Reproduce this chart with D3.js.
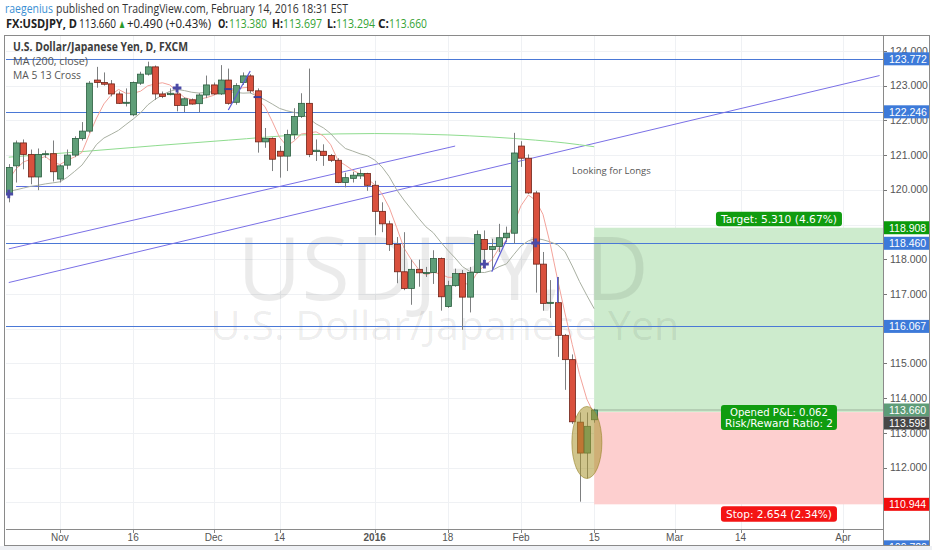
<!DOCTYPE html>
<html><head><meta charset="utf-8">
<script src="https://cdn.jsdelivr.net/npm/d3@7"></script>
<style>body{margin:0;background:#fff;} svg{display:block;font-family:Lato,"Open Sans",Arial,sans-serif;}</style>
</head><body><svg id="c" width="932" height="550"></svg>
<script>
// ---------- DATA ----------
const dates = ["2015-10-22","2015-10-23","2015-10-26","2015-10-27","2015-10-28","2015-10-29","2015-10-30",
"2015-11-02","2015-11-03","2015-11-04","2015-11-05","2015-11-06","2015-11-09","2015-11-10","2015-11-11","2015-11-12","2015-11-13",
"2015-11-16","2015-11-17","2015-11-18","2015-11-19","2015-11-20","2015-11-23","2015-11-24","2015-11-25","2015-11-26","2015-11-27","2015-11-30",
"2015-12-01","2015-12-02","2015-12-03","2015-12-04","2015-12-07","2015-12-08","2015-12-09","2015-12-10","2015-12-11",
"2015-12-14","2015-12-15","2015-12-16","2015-12-17","2015-12-18","2015-12-21","2015-12-22","2015-12-23","2015-12-24",
"2015-12-28","2015-12-29","2015-12-30","2015-12-31","2016-01-04","2016-01-05","2016-01-06","2016-01-07","2016-01-08",
"2016-01-11","2016-01-12","2016-01-13","2016-01-14","2016-01-15","2016-01-18","2016-01-19","2016-01-20","2016-01-21","2016-01-22",
"2016-01-25","2016-01-26","2016-01-27","2016-01-28","2016-01-29","2016-02-01","2016-02-02","2016-02-03","2016-02-04","2016-02-05",
"2016-02-08","2016-02-09","2016-02-10","2016-02-11","2016-02-12","2016-02-15"];
const opens = [119.88,120.69,121.35,121.02,120.37,121.02,121.04,
120.31,120.71,121.00,121.48,121.69,123.16,123.09,123.05,122.76,122.49,
122.16,123.07,123.33,123.54,122.76,122.74,122.76,122.43,122.59,122.48,122.73,
123.02,122.76,123.16,122.52,123.09,123.28,122.85,121.38,121.48,
121.11,120.97,121.59,122.11,122.49,121.10,121.11,120.99,120.85,
120.21,120.33,120.40,120.47,120.13,119.38,119.02,118.43,117.64,
117.16,117.71,117.60,117.62,118.02,116.64,117.24,117.59,116.91,117.62,
118.57,118.28,118.37,118.62,118.75,121.26,120.91,119.91,117.86,116.73,
116.75,115.81,115.11,113.31,112.42,113.380];
const highs = [120.74,121.42,121.45,121.16,121.19,121.13,121.42,
120.73,121.16,121.54,121.95,123.13,123.54,123.38,123.16,122.83,122.92,
123.12,123.40,123.69,123.58,122.83,122.92,122.88,122.66,122.63,122.78,123.29,
123.09,123.59,123.49,123.07,123.38,123.33,122.92,121.78,121.51,
121.26,121.73,122.35,122.78,123.49,121.45,121.31,121.03,120.91,
120.49,120.52,120.59,120.49,120.26,119.64,119.11,118.64,118.78,
117.99,117.99,117.78,118.26,118.05,117.38,117.73,117.69,117.78,118.83,
118.83,118.59,119.02,118.94,121.64,121.40,121.02,119.97,118.21,117.40,
117.49,115.85,115.26,113.59,113.59,113.697];
const lows = [119.64,120.21,120.59,120.16,119.99,120.92,120.24,
120.21,120.59,120.94,121.42,121.64,122.94,123.00,122.69,122.47,122.40,
122.12,123.02,123.29,122.59,122.64,122.72,122.26,122.24,122.45,122.24,122.64,
122.73,122.73,122.45,122.45,123.02,122.78,121.07,121.21,120.54,
120.35,120.54,121.45,122.07,120.94,120.83,120.69,120.80,120.19,
120.07,120.21,120.31,119.97,118.69,118.78,118.24,117.31,117.11,
116.69,117.21,117.49,117.29,116.52,116.60,117.21,115.97,116.47,117.59,
117.97,117.69,118.21,118.49,118.45,120.66,119.88,117.04,116.52,116.31,
115.19,114.24,113.26,111.02,111.69,113.294];
const closes = [120.64,121.35,121.02,120.37,121.02,121.04,120.52,
120.69,121.00,121.48,121.69,123.07,123.09,123.04,122.76,122.49,122.52,
123.09,123.33,123.54,122.76,122.69,122.78,122.43,122.62,122.47,122.73,123.02,
122.76,123.16,122.49,123.00,123.28,122.85,121.38,121.48,120.88,
120.97,121.59,122.11,122.49,121.02,121.14,120.99,120.85,120.21,
120.35,120.42,120.47,120.13,119.38,119.02,118.43,117.64,117.16,
117.71,117.61,117.62,118.02,116.92,117.24,117.59,116.91,117.62,118.71,
118.28,118.37,118.62,118.75,121.06,120.91,119.91,117.86,116.73,116.76,
115.81,115.11,113.32,112.42,113.19,113.660];

// moving-average values before enough history exists
const ma5Early = [120.30,120.60,120.80,120.88];
const ma13Early = [119.95,120.00,120.05,120.10,120.13,120.17,120.20,120.23,120.36,120.53,120.71,121.00];
// MA(200, close), read at a few bars
const ma200Bars = [0,10,20,30,40,50,60,66,72,76,80];
const ma200Vals = [120.94,121.10,121.27,121.43,121.58,121.62,121.58,121.52,121.43,121.35,121.24];

// x-axis ticks (bar positions on the extended daily timeline)
const tickBars = [7,17,28,37,50,60,70,80,91,100,114];
const tickLabels = ["Nov","16","Dec","14","2016","18","Feb","15","Mar","14","Apr"];
const priceTicks = [111,112,113,114,115,116,117,118,119,120,121,122,123,124];

// drawings
const levels = [123.772,122.246,118.460,116.067,109.72];
const partialLevel = {from:1, to:69, value:120.11};
const trendLines = [[[0,117.33],[119,123.29]], [[0,118.30],[61,121.26]]];
const crossPlus = [[0,119.88],[23,122.93],[65,117.86],[72,118.47]];
const crossDash = [[30,122.90],[34,122.67]];
const crossLines = [[[30,122.30],[33,123.42]],[[66,117.64],[68,118.55]],[[75,117.49],[75,116.75]]];
const position = {from:80, to:130.5, entry:113.598, target:118.908, stop:110.944, last:113.660};
const lastPrice = 113.660;

// ---------- DRAW ----------
const svg = d3.select('#c');
const P = {l:6, t:36, r:883, b:529};
const x = d3.scaleLinear().domain([0,114]).range([8.76,843]);
const y = d3.scaleLinear().domain([117,113]).range([294,432.92]);

svg.append('rect').attr('width',932).attr('height',550).attr('fill','#fff');
svg.append('rect').attr('x',0).attr('y',546).attr('width',932).attr('height',4).attr('fill','#eef0f4');

const defs = svg.append('defs');
defs.append('clipPath').attr('id','pc').append('rect').attr('x',P.l).attr('y',P.t).attr('width',P.r-P.l).attr('height',P.b-P.t);
defs.append('clipPath').attr('id','ac').append('rect').attr('x',P.r).attr('y',P.t).attr('width',929-P.r).attr('height',545-P.t);

const g = svg.append('g').attr('clip-path','url(#pc)');

// grid
g.selectAll('.vg').data(tickBars).enter().append('line')
 .attr('x1',d=>Math.round(x(d))+0.5).attr('x2',d=>Math.round(x(d))+0.5).attr('y1',P.t).attr('y2',P.b)
 .attr('stroke','#eff1f4');
g.selectAll('.hg').data(priceTicks).enter().append('line')
 .attr('x1',P.l).attr('x2',P.r).attr('y1',d=>Math.round(y(d))+0.5).attr('y2',d=>Math.round(y(d))+0.5)
 .attr('stroke','#eff1f4');

// position zones
g.append('rect').attr('x',x(position.from)).attr('width',x(position.to)-x(position.from))
 .attr('y',y(position.target)).attr('height',y(position.entry)-y(position.target)).attr('fill','#cdebcd');
g.append('rect').attr('x',x(position.from)).attr('width',x(position.to)-x(position.from))
 .attr('y',y(position.entry)).attr('height',y(position.stop)-y(position.entry)).attr('fill','#fdcfcf');
g.append('line').attr('x1',x(position.from)).attr('x2',x(position.to)).attr('y1',y(position.last)).attr('y2',y(position.last))
 .attr('stroke','#9db39d').attr('stroke-width',1);

// watermark (drawn over the zones, as in the reference)
g.append('text').attr('x',443).attr('y',300).attr('text-anchor','middle')
 .attr('font-size',88).attr('fill','#000').attr('fill-opacity',0.08).attr('font-family','"Open Sans",Arial,sans-serif').text('USDJPY, D');
g.append('text').attr('x',445).attr('y',340).attr('text-anchor','middle')
 .attr('font-size',41).attr('fill','#000').attr('fill-opacity',0.08).attr('font-family','"Open Sans",Arial,sans-serif').text('U.S. Dollar/Japanese Yen');

// horizontal levels
g.selectAll('.lv').data(levels).enter().append('line')
 .attr('x1',P.l).attr('x2',P.r).attr('y1',d=>Math.round(y(d))+0.5).attr('y2',d=>Math.round(y(d))+0.5)
 .attr('stroke','#4a78d6').attr('stroke-width',1);
g.append('line').attr('x1',x(partialLevel.from)).attr('x2',x(partialLevel.to))
 .attr('y1',Math.round(y(partialLevel.value))+0.5).attr('y2',Math.round(y(partialLevel.value))+0.5)
 .attr('stroke','#5a6ee0').attr('stroke-width',1);

// trend lines
trendLines.forEach(t=>{
  g.append('line').attr('x1',x(t[0][0])).attr('y1',y(t[0][1])).attr('x2',x(t[1][0])).attr('y2',y(t[1][1]))
   .attr('stroke','#7a70e6').attr('stroke-width',1);
});

// moving averages
const ma = (n, early) => closes.map((c,k)=> k>=n-1 ? d3.mean(closes.slice(k-n+1,k+1)) : early[k]);
const ma5 = ma(5, ma5Early), ma13 = ma(13, ma13Early);
const line = d3.line().x(d=>x(d[0])).y(d=>y(d[1]));
g.append('path').attr('d', d3.line().curve(d3.curveMonotoneX).x(d=>x(d[0])).y(d=>y(d[1]))(ma200Bars.map((b,k)=>[b,ma200Vals[k]])))
 .attr('fill','none').attr('stroke','#8fdc8f').attr('stroke-width',1);
g.append('path').attr('d', line(ma13.map((v,k)=>[k,v]))).attr('fill','none').attr('stroke','#a9b0a2').attr('stroke-width',1);
g.append('path').attr('d', line(ma5.map((v,k)=>[k,v]))).attr('fill','none').attr('stroke','#f3a39b').attr('stroke-width',1);

// candles
const candles = dates.map((d,k)=>({k, o:opens[k], h:highs[k], l:lows[k], c:closes[k]}));
const cg = g.append('g');
candles.forEach(d=>{
  const r = Math.round(x(d.k));
  const up = d.c >= d.o;
  cg.append('line').attr('x1',r+0.5).attr('x2',r+0.5).attr('y1',y(d.h)).attr('y2',y(d.l)).attr('stroke','#7d7f80').attr('stroke-width',1);
  const top = y(Math.max(d.o,d.c)), bot = y(Math.min(d.o,d.c));
  cg.append('rect').attr('x',r-2.5).attr('width',6).attr('y',top).attr('height',Math.max(1,bot-top))
    .attr('fill', up ? '#5f9e78' : '#d9503d').attr('stroke', up ? '#2b5e3f' : '#6e2418').attr('stroke-width',0.8);
});

// MA cross markers
crossLines.forEach(t=>{
  g.append('line').attr('x1',x(t[0][0])).attr('y1',y(t[0][1])).attr('x2',x(t[1][0])).attr('y2',y(t[1][1]))
   .attr('stroke','#5b5bd6').attr('stroke-width',1.2);
});
g.selectAll('.cp').data(crossPlus).enter().append('path')
 .attr('d', d3.symbol(d3.symbolCross, 42)()).attr('transform',d=>`translate(${x(d[0])},${y(d[1])})`).attr('fill','#4b4aa6');
g.selectAll('.cd').data(crossDash).enter().append('line')
 .attr('x1',d=>x(d[0])-4).attr('x2',d=>x(d[0])+4).attr('y1',d=>y(d[1])).attr('y2',d=>y(d[1]))
 .attr('stroke','#3d3d9a').attr('stroke-width',2);

// highlight ellipse round the last candles
g.append('ellipse').attr('cx',(x(78)+x(80))/2).attr('cy',(y(113.75)+y(111.7))/2).attr('rx',15).attr('ry',36)
 .attr('fill','rgba(170,150,45,0.55)').attr('stroke','rgba(150,130,40,0.6)');

// note text
g.append('text').attr('x',572).attr('y',174).attr('font-size',9.5).attr('fill','#555').attr('font-family','"Open Sans",Arial,sans-serif').text('Looking for Longs');

// position labels
const cx = (x(position.from)+x(position.to))/2;
const rr = (y0, h, w, fill) => g.append('rect').attr('x',cx-w/2).attr('y',y0).attr('width',w).attr('height',h).attr('rx',3).attr('fill',fill);
const tgt = (position.target-position.entry), stp = (position.entry-position.stop);
rr(y(position.target)-16, 14.5, 126, '#109c10');
g.append('text').attr('x',cx).attr('y',y(position.target)-5).attr('text-anchor','middle').attr('font-size',11).attr('fill','#fff')
 .attr('font-family','"DejaVu Sans",sans-serif').attr('textLength',116).attr('lengthAdjust','spacingAndGlyphs')
 .text(`Target: ${tgt.toFixed(3)} (${(tgt/position.entry*100).toFixed(2)}%)`);
rr(y(position.last)-5, 25, 116, '#109c10');
g.append('text').attr('x',cx).attr('y',y(position.last)+6).attr('text-anchor','middle').attr('font-size',11).attr('fill','#fff')
 .attr('font-family','"DejaVu Sans",sans-serif').attr('textLength',98).attr('lengthAdjust','spacingAndGlyphs')
 .text(`Opened P&L: ${(position.last-position.entry).toFixed(3)}`);
g.append('text').attr('x',cx).attr('y',y(position.last)+17).attr('text-anchor','middle').attr('font-size',11).attr('fill','#fff')
 .attr('font-family','"DejaVu Sans",sans-serif').attr('textLength',108).attr('lengthAdjust','spacingAndGlyphs')
 .text(`Risk/Reward Ratio: ${Math.round(tgt/stp)}`);
rr(y(position.stop)+2, 15.5, 116, '#f41414');
g.append('text').attr('x',cx).attr('y',y(position.stop)+14).attr('text-anchor','middle').attr('font-size',11).attr('fill','#fff')
 .attr('font-family','"DejaVu Sans",sans-serif').attr('textLength',106).attr('lengthAdjust','spacingAndGlyphs')
 .text(`Stop: ${stp.toFixed(3)} (${(stp/position.entry*100).toFixed(2)}%)`);

// ---------- axes ----------
const lab = [
  {v:levels[0], f:'#3d7ad9'},{v:levels[1], f:'#3d7ad9'},{v:position.target, f:'#0b9a0b'},
  {v:levels[2], f:'#3d7ad9'},{v:levels[3], f:'#3d7ad9'},{v:lastPrice, f:'#5e9c78'},
  {v:position.entry, f:'#474747'},{v:position.stop, f:'#f20d0d'},{v:levels[4], f:'#3d7ad9'}
].map(d=>({...d, yy:y(d.v)})).sort((a,b)=>a.yy-b.yy);
for(let k=1;k<lab.length;k++){ if(lab[k].yy-lab[k-1].yy<13) lab[k].yy = lab[k-1].yy+13; }

// price axis ticks (those fully under a price label are hidden, as the reference does)
const shownTicks = priceTicks.filter(t=>lab.every(l=>Math.abs(l.yy-y(t))>6.5));
const ax = svg.append('g').attr('clip-path','url(#ac)');
ax.selectAll('.pt').data(priceTicks).enter().append('line')
 .attr('x1',P.r).attr('x2',P.r+4).attr('y1',d=>Math.round(y(d))+0.5).attr('y2',d=>Math.round(y(d))+0.5).attr('stroke','#777');
ax.selectAll('.ptl').data(shownTicks).enter().append('text')
 .attr('x',P.r+7).attr('y',d=>y(d)).attr('dy','0.35em').attr('font-size',10.5).attr('fill','#555')
 .attr('font-family','Arial,"Liberation Sans",sans-serif').text(d=>d.toFixed(3));

lab.forEach(d=>{
  ax.append('rect').attr('x',P.r+1).attr('y',d.yy-6.5).attr('width',45).attr('height',13).attr('fill',d.f);
  ax.append('text').attr('x',P.r+6).attr('y',d.yy).attr('dy','0.36em').attr('font-size',10.5).attr('fill','#fff')
    .attr('font-family','Arial,"Liberation Sans",sans-serif').text(d.v.toFixed(3));
});

// time axis
svg.append('line').attr('x1',P.l).attr('x2',P.r).attr('y1',P.b+0.5).attr('y2',P.b+0.5).attr('stroke','#8a8a8a');
svg.selectAll('.xt').data(tickBars).enter().append('line')
 .attr('x1',d=>Math.round(x(d))+0.5).attr('x2',d=>Math.round(x(d))+0.5).attr('y1',P.b).attr('y2',P.b+4).attr('stroke','#888');
svg.selectAll('.xtl').data(tickBars).enter().append('text')
 .attr('x',d=>x(d)).attr('y',541).attr('text-anchor','middle').attr('font-size',10).attr('fill','#555')
 .attr('font-weight',(d,k)=>tickLabels[k]==='2016'?'bold':'normal')
 .attr('font-family','Arial,"Liberation Sans",sans-serif').text((d,k)=>tickLabels[k]);

// frame
svg.append('line').attr('x1',P.r+0.5).attr('x2',P.r+0.5).attr('y1',P.t).attr('y2',545).attr('stroke','#8a8a8a');
svg.append('rect').attr('x',4.5).attr('y',35.5).attr('width',925).attr('height',510).attr('fill','none').attr('stroke','#8a8a8a');

// legend
const lg = svg.append('g').attr('font-family','"Open Sans",Arial,sans-serif');
lg.append('text').attr('x',13).attr('y',51).attr('font-size',11.5).attr('font-weight','bold').attr('fill','#3d3d3d')
 .attr('textLength',175).attr('lengthAdjust','spacingAndGlyphs').text('U.S. Dollar/Japanese Yen, D, FXCM');
lg.append('text').attr('x',13).attr('y',65).attr('font-size',11).attr('fill','#555')
 .attr('textLength',75).attr('lengthAdjust','spacingAndGlyphs').text('MA (200, close)');
lg.append('text').attr('x',13).attr('y',78.5).attr('font-size',11).attr('fill','#555')
 .attr('textLength',68).attr('lengthAdjust','spacingAndGlyphs').text('MA 5 13 Cross');

// header
const hd = svg.append('g').attr('font-family','"Open Sans",Arial,sans-serif').attr('font-size',12);
const seg = (t, xx, yy, len, fill, bold) => hd.append('text').attr('x',xx).attr('y',yy).attr('fill',fill)
  .attr('font-weight',bold?'bold':'normal').attr('textLength',len).attr('lengthAdjust','spacingAndGlyphs').text(t);
seg('raegenius',5,13,48,'#3a8fd4',false);
seg('published on TradingView.com, February 14, 2016 18:31 EST',56,13,292,'#333',false);
seg('FX:USDJPY, D',6,27.5,71,'#222',true);
seg(lastPrice.toFixed(3),79,27.5,37,'#222',false);
seg('▲',118,27.5,8,'#2a9a2a',false);
seg('+0.490 (+0.43%)',127,27.5,84,'#222',false);
seg('O:',218,27.5,10,'#222',true); seg(opens[opens.length-1].toFixed(3),229,27.5,38,'#35a335',false);
seg('H:',272,27.5,11,'#222',true); seg(highs[highs.length-1].toFixed(3),283,27.5,39,'#35a335',false);
seg('L:',327,27.5,9,'#222',true);  seg(lows[lows.length-1].toFixed(3),336,27.5,39,'#35a335',false);
seg('C:',378,27.5,11,'#222',true); seg(closes[closes.length-1].toFixed(3),389,27.5,38,'#35a335',false);
</script></body></html>
